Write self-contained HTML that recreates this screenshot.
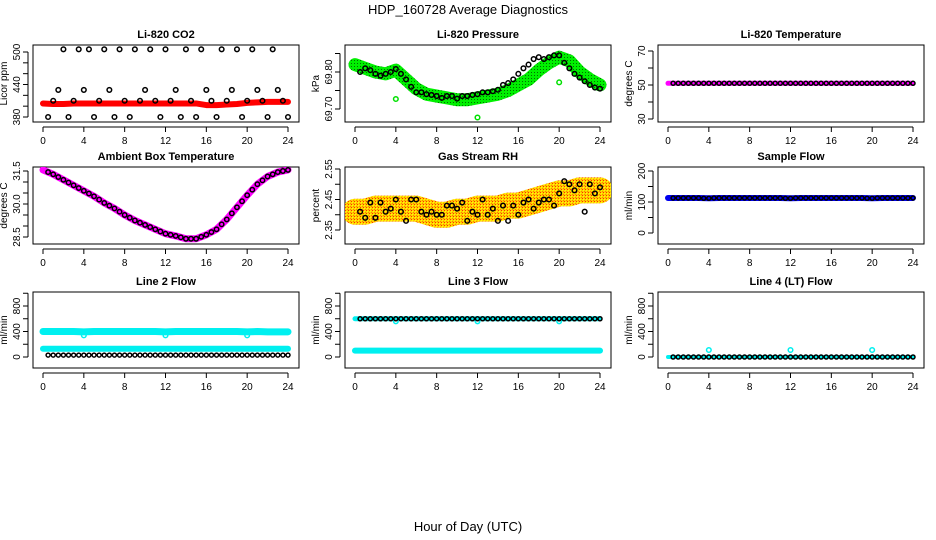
<!DOCTYPE html>
<html><head><meta charset="utf-8"><style>
body{margin:0;background:#fff;}
svg{display:block;font-family:"Liberation Sans",sans-serif;}
</style></head><body>
<svg id="c" width="936" height="540" viewBox="0 0 936 540">
<defs>
<pattern id="checker" width="3" height="3" patternUnits="userSpaceOnUse">
<rect width="3" height="3" fill="#ffd000"/>
<rect width="1" height="1" fill="#ff3000"/>
<rect x="2" y="2" width="1" height="1" fill="#ff8000"/>
<rect x="1" y="1" width="1" height="1" fill="#ffff00"/>
</pattern>
<pattern id="greendots" width="3" height="3" patternUnits="userSpaceOnUse">
<rect width="3" height="3" fill="#00f000"/>
<rect width="1" height="1" fill="#007000"/>
</pattern>
</defs>
<text x="468" y="14" font-size="13" text-anchor="middle">HDP_160728  Average Diagnostics</text>
<text x="468" y="531" font-size="13" text-anchor="middle">Hour of Day (UTC)</text>
</svg>
<script>
// ---- data ----
const hours = [0,1,2,3,4,5,6,7,8,9,10,11,12,13,14,15,16,17,18,19,20,21,22,23,24];
const halfHours = [0.5,1,1.5,2,2.5,3,3.5,4,4.5,5,5.5,6,6.5,7,7.5,8,8.5,9,9.5,10,10.5,11,11.5,12,12.5,13,13.5,14,14.5,15,15.5,16,16.5,17,17.5,18,18.5,19,19.5,20,20.5,21,21.5,22,22.5,23,23.5,24];
const xTicks = [0,4,8,12,16,20,24];

const co2Black = [380,410,430,505,380,410,505,430,505,380,410,505,430,380,505,410,380,505,410,430,505,410,380,505,410,430,380,505,410,380,505,430,410,380,505,410,430,505,380,410,505,430,410,380,505,430,410,380];
const co2Red = [405,404,404,405,405,405,405,405,405,405,405,405,405,405,405,405,402,402,403,404,406,407,408,408,408];

const pressGreen = [69.820,69.810,69.800,69.795,69.805,69.780,69.755,69.740,69.735,69.730,69.725,69.725,69.730,69.735,69.740,69.750,69.765,69.780,69.805,69.825,69.840,69.830,69.800,69.780,69.765];
const pressBlack = [69.800,69.810,69.805,69.795,69.790,69.795,69.800,69.808,69.795,69.780,69.760,69.745,69.745,69.740,69.738,69.735,69.730,69.735,69.735,69.728,69.735,69.735,69.738,69.740,69.745,69.745,69.748,69.752,69.765,69.770,69.780,69.795,69.810,69.820,69.835,69.840,69.835,69.840,69.845,69.845,69.825,69.810,69.795,69.785,69.775,69.765,69.758,69.755];
const pressOutX = [12,4,20];
const pressOutY = [69.677,69.727,69.772];

const tempBlack = [51,51,51,51,51,51,51,51,51,51,51,51,51,51,51,51,51,51,51,51,51,51,51,51,51];

const ambient = [31.55,31.35,31.1,30.85,30.6,30.35,30.05,29.8,29.5,29.25,29.05,28.85,28.65,28.55,28.42,28.42,28.6,28.85,29.3,29.85,30.4,30.9,31.25,31.45,31.55];

const rhBlack = [2.41,2.39,2.44,2.39,2.44,2.41,2.42,2.45,2.41,2.38,2.45,2.45,2.41,2.40,2.41,2.40,2.40,2.43,2.43,2.42,2.44,2.38,2.41,2.40,2.45,2.40,2.42,2.38,2.43,2.38,2.43,2.40,2.44,2.45,2.42,2.44,2.45,2.45,2.43,2.47,2.51,2.50,2.48,2.50,2.41,2.50,2.47,2.49];
const rhOrange = [2.41,2.41,2.42,2.42,2.42,2.42,2.42,2.41,2.40,2.40,2.41,2.41,2.42,2.42,2.42,2.43,2.43,2.44,2.45,2.46,2.47,2.47,2.48,2.48,2.48];

const sampleFlow = [113,113,113,113,112,113,113,113,113,113,113,113,112,113,113,113,113,113,113,113,112,113,113,113,113];
const line2High = [400,400,400,400,395,400,400,400,400,400,400,400,395,400,400,400,400,400,400,400,395,400,395,395,395];
const line2Low = [130,130,130,130,130,130,130,130,130,130,130,130,130,130,130,130,130,130,130,130,130,130,130,130,130];
const line2Black = [30,30,30,30,30,30,30,30,30,30,30,30,30,30,30,30,30,30,30,30,30,30,30,30,30];
const line3Black = [600,600,600,600,600,600,600,600,600,600,600,600,600,600,600,600,600,600,600,600,600,600,600,600,600];
const line3Low = [100,100,100,100,100,100,100,100,100,100,100,100,100,100,100,100,100,100,100,100,100,100,100,100,100];
const line4Black = [0,0,0,0,0,0,0,0,0,0,0,0,0,0,0,0,0,0,0,0,0,0,0,0,0];
const spikeHours = [4,12,20];
const line2Spikes = [340,340,340];
const line3Spikes = [560,560,560];
const line4Spikes = [110,110,110];

// ---- layout ----
const svg = document.getElementById('c');
const NS = 'http://www.w3.org/2000/svg';
const colX0 = [43,355,668];
const rowBox = [[45,122],[167,244],[292,368]];
function mk(tag, attrs, parent){
  const e = document.createElementNS(NS, tag);
  for (const k in attrs) e.setAttribute(k, attrs[k]);
  (parent||svg).appendChild(e);
  return e;
}
function panel(col,row,title,ylab,a1,a2,yTicks,yLabels){
  const g = mk('g',{});
  
  
  const x0 = colX0[col], L = x0-10, R = x0+256;
  const [T,B] = rowBox[row];
  const sx = h => x0 + h*(245/24);
  const sy = v => a1[1] + (v - a1[0])*(a2[1]-a1[1])/(a2[0]-a1[0]);
  const t = mk('text',{x:(L+R)/2,y:T-7,'font-size':11,'font-weight':'bold','text-anchor':'middle'},g);
  t.textContent = title;
  
  
  const box = mk('rect',{x:L,y:T,width:R-L,height:B-T,fill:'none',stroke:'#000','stroke-width':1},g);
  
  
  mk('line',{x1:sx(0),x2:sx(24),y1:B+5,y2:B+5,stroke:'#000'},g);
  xTicks.forEach(h=>{
    mk('line',{x1:sx(h),x2:sx(h),y1:B+5,y2:B+10,stroke:'#000'},g);
    const tx = mk('text',{x:sx(h),y:B+22,'font-size':10,'text-anchor':'middle'},g);
    tx.textContent = h;
    
    
  });
  mk('line',{x1:L-5,x2:L-5,y1:sy(yTicks[0]),y2:sy(yTicks[yTicks.length-1]),stroke:'#000'},g);
  yTicks.forEach((v,i)=>{
    mk('line',{x1:L-10,x2:L-5,y1:sy(v),y2:sy(v),stroke:'#000'},g);
    if (yLabels[i]!==''){
      const yy = sy(v);
      const ty = mk('text',{x:L-13,y:yy,'font-size':10,'text-anchor':'middle',transform:`rotate(-90 ${L-13} ${yy})`},g);
      ty.textContent = yLabels[i];
      
      
    }
  });
  const my = (T+B)/2;
  const yl = mk('text',{x:L-26,y:my,'font-size':10,'text-anchor':'middle',transform:`rotate(-90 ${L-26} ${my})`},g);
  yl.textContent = ylab;
  
  
  const clip = 'clip'+col+row;
  const cp = mk('clipPath',{id:clip},g);
  mk('rect',{x:L,y:T,width:R-L,height:B-T},cp);
  const data = mk('g',{'clip-path':`url(#${clip})`},g);
  return {g:data,sx,sy};
}
function band(p,xs,ys,color,w,name){
  const pts = xs.map((h,i)=>p.sx(h)+','+p.sy(ys[i])).join(' ');
  const l = mk('polyline',{points:pts,fill:'none',stroke:color,'stroke-width':w,'stroke-linejoin':'round','stroke-linecap':'round'},p.g);
  
  
}
function dots(p,xs,ys,color,name,r){
  xs.forEach((h,i)=>{
    const c = mk('circle',{cx:p.sx(h),cy:p.sy(ys[i]),r:r||2.3,fill:'none',stroke:color,'stroke-width':1.5},p.g);
    
    
  });
}
const atHalf = arr => halfHours.map(h=>arr[Math.min(24,Math.round(h))]);

let p = panel(0,0,'Li-820 CO2','Licor ppm',[380,117],[500,52],[380,400,420,440,460,480,500],['380','','','440','','','500']);
band(p,hours,co2Red,'#f00',6,'co2-red-series');
dots(p,halfHours,co2Black,'#000','co2-point');

p = panel(1,0,'Li-820 Pressure','kPa',[69.70,109],[69.80,72],[69.70,69.75,69.80,69.85],['69.70','','69.80','']);
band(p,hours,pressGreen,'url(#greendots)',13,'pressure-green-series');
dots(p,halfHours,pressBlack,'#000','pressure-point');
dots(p,pressOutX,pressOutY,'#00e000','pressure-outlier');

p = panel(2,0,'Li-820 Temperature','degrees C',[30,119],[70,51],[30,40,50,60,70],['30','','50','','70']);
band(p,hours,tempBlack,'#f0f',5,'temp-magenta-series');
dots(p,halfHours,atHalf(tempBlack),'#000','temp-point',2);

p = panel(0,1,'Ambient Box Temperature','degrees C',[28.5,237],[31.5,171],[28.5,29.0,29.5,30.0,30.5,31.0,31.5],['28.5','','','30.0','','','31.5']);
band(p,hours,ambient,'#f0f',7,'ambient-magenta-series');
const ambHalf = halfHours.map(h=>{const a=Math.floor(h),b=Math.min(24,a+1);return ambient[a]+(ambient[b]-ambient[a])*(h-a);});
dots(p,halfHours,ambHalf,'#000','ambient-point',2.2);

p = panel(1,1,'Gas Stream RH','percent',[2.35,230],[2.55,169],[2.35,2.40,2.45,2.50,2.55],['2.35','','2.45','','2.55']);
band(p,hours,rhOrange,'url(#checker)',26,'rh-orange-band');
dots(p,halfHours,rhBlack,'#000','rh-point');

p = panel(2,1,'Sample Flow','ml/min',[0,233],[200,171],[0,50,100,150,200],['0','','100','','200']);
band(p,hours,sampleFlow,'#0000ee',6,'sample-flow-blue-series');
dots(p,halfHours,atHalf(sampleFlow),'#000','sample-flow-point',2);

p = panel(0,2,'Line 2 Flow','ml/min',[0,357],[800,306],[0,200,400,600,800,1000],['0','','400','','800','']);
band(p,hours,line2High,'#00f0f0',7,'line2-high-series');
band(p,hours,line2Low,'#00f0f0',6,'line2-low-series');
dots(p,spikeHours,line2Spikes,'#00f0f0','line2-spike');
dots(p,halfHours,atHalf(line2Black),'#000','line2-point',2);

p = panel(1,2,'Line 3 Flow','ml/min',[0,357],[800,306],[0,200,400,600,800,1000],['0','','400','','800','']);
band(p,hours,line3Low,'#00f0f0',6,'line3-low-series');
band(p,hours,line3Black,'#00f0f0',5,'line3-high-series');
dots(p,spikeHours,line3Spikes,'#00f0f0','line3-spike');
dots(p,halfHours,atHalf(line3Black),'#000','line3-point',2);

p = panel(2,2,'Line 4 (LT) Flow','ml/min',[0,357],[800,306],[0,200,400,600,800,1000],['0','','400','','800','']);
band(p,hours,line4Black,'#00f0f0',4,'line4-cyan-series');
dots(p,spikeHours,line4Spikes,'#00f0f0','line4-spike');
dots(p,halfHours,atHalf(line4Black),'#000','line4-point',2);
</script>
</body></html>
